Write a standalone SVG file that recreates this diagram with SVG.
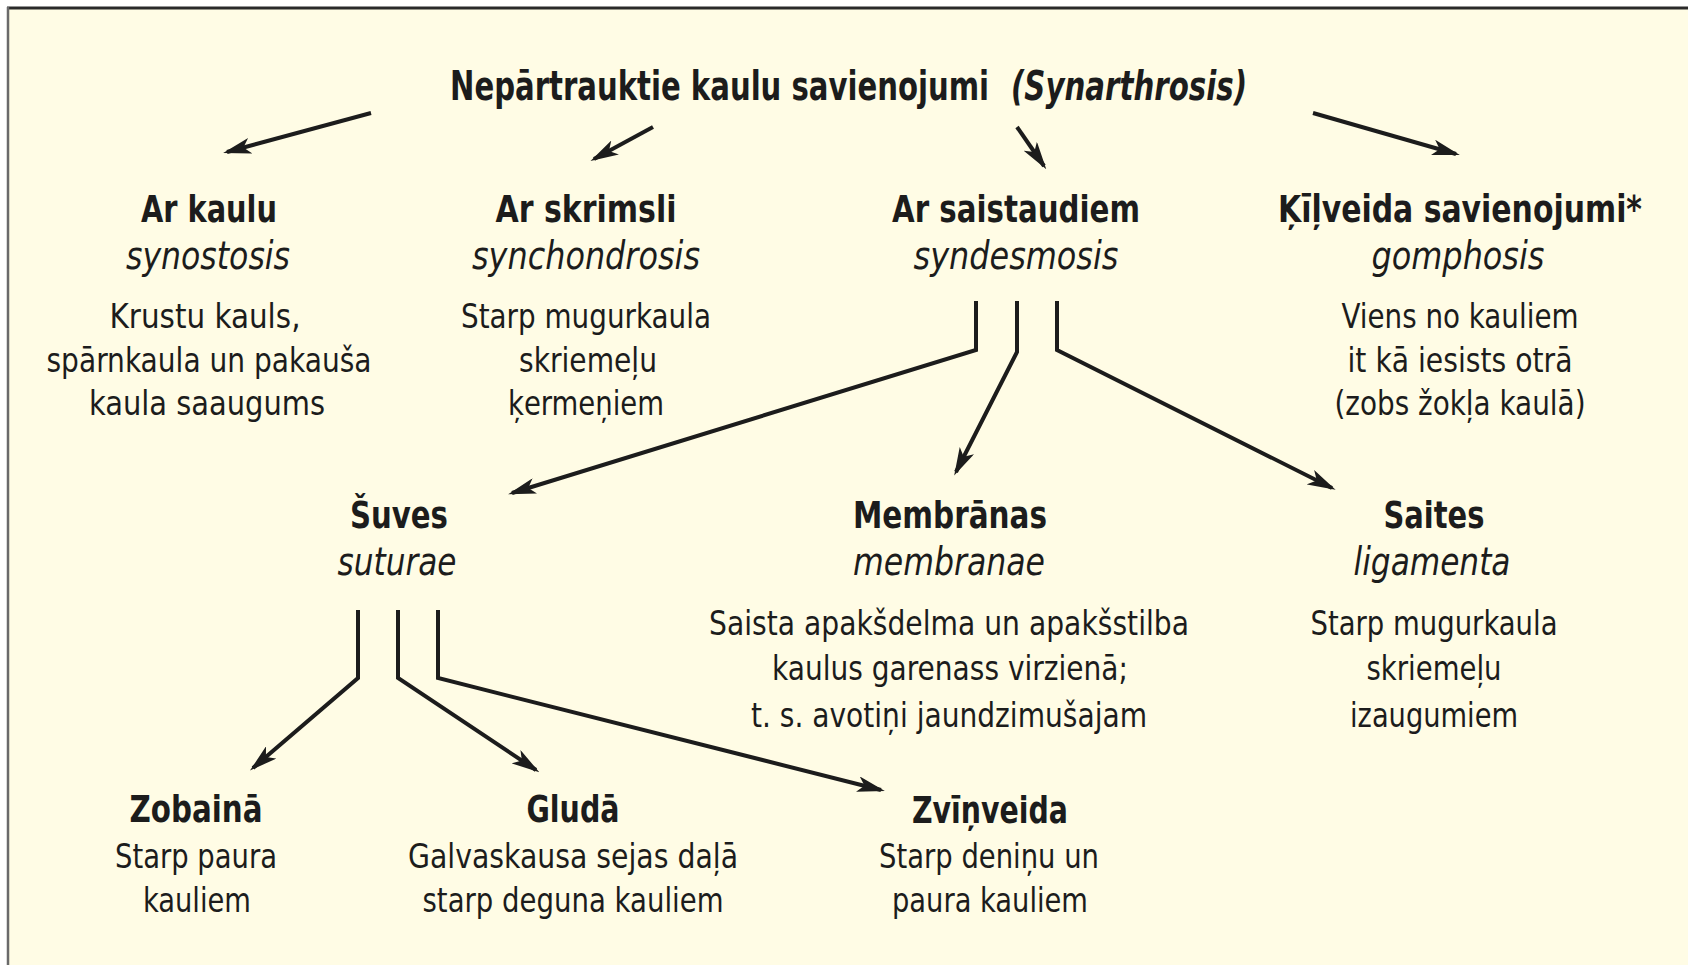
<svg xmlns="http://www.w3.org/2000/svg" width="1688" height="965" viewBox="0 0 1688 965">
<defs>
<style>
text{font-family:"Liberation Sans Narrow","DejaVu Sans Condensed","Liberation Sans",sans-serif;fill:#1c1c1c;text-anchor:middle}
.t{font-size:41px;font-weight:bold;text-anchor:end}
.ti{font-size:41px;font-weight:bold;font-style:italic;text-anchor:start}
.h{font-size:38px;font-weight:bold}
.i{font-size:39px;font-style:italic}
.d{font-size:33px}
.c{fill:none;stroke:#1c1c1c;stroke-width:4;stroke-linejoin:miter;marker-end:url(#ah)}
</style>
<marker id="ah" viewBox="0 0 28 16" markerWidth="28" markerHeight="16" refX="24" refY="8" orient="auto" markerUnits="userSpaceOnUse">
<path d="M0,0 L28,8 L0,16 L7,8 z" fill="#1c1c1c"/>
</marker>
</defs>
<rect x="0" y="0" width="1688" height="965" fill="#ffffff"/>
<rect x="8" y="8" width="1680" height="957" fill="#fffce5"/>
<line x1="7" y1="8" x2="1688" y2="8" stroke="#2a2a2a" stroke-width="3"/>
<line x1="8" y1="7" x2="8" y2="965" stroke="#6a6a6a" stroke-width="2.5"/>

<g id="title">
<text class="t" x="989" y="100" textLength="539" lengthAdjust="spacingAndGlyphs">Nepārtrauktie kaulu savienojumi</text>
<text class="ti" x="1011" y="100" textLength="236" lengthAdjust="spacingAndGlyphs">(Synarthrosis)</text>
</g>

<g id="ar-kaulu">
<text class="h" x="209" y="222" textLength="136" lengthAdjust="spacingAndGlyphs">Ar kaulu</text>
<text class="i" x="208" y="269" textLength="164" lengthAdjust="spacingAndGlyphs">synostosis</text>
<text class="d" x="205" y="328" textLength="191" lengthAdjust="spacingAndGlyphs">Krustu kauls,</text>
<text class="d" x="209" y="372" textLength="325" lengthAdjust="spacingAndGlyphs">spārnkaula un pakauša</text>
<text class="d" x="207" y="415" textLength="236" lengthAdjust="spacingAndGlyphs">kaula saaugums</text>
</g>

<g id="ar-skrimsli">
<text class="h" x="586" y="222" textLength="181" lengthAdjust="spacingAndGlyphs">Ar skrimsli</text>
<text class="i" x="586" y="269" textLength="228" lengthAdjust="spacingAndGlyphs">synchondrosis</text>
<text class="d" x="586" y="328" textLength="250" lengthAdjust="spacingAndGlyphs">Starp mugurkaula</text>
<text class="d" x="588" y="372" textLength="138" lengthAdjust="spacingAndGlyphs">skriemeļu</text>
<text class="d" x="586" y="415" textLength="156" lengthAdjust="spacingAndGlyphs">ķermeņiem</text>
</g>

<g id="ar-saistaudiem">
<text class="h" x="1016" y="222" textLength="248" lengthAdjust="spacingAndGlyphs">Ar saistaudiem</text>
<text class="i" x="1016" y="269" textLength="205" lengthAdjust="spacingAndGlyphs">syndesmosis</text>
</g>

<g id="kilveida">
<text class="h" x="1460" y="222" textLength="364" lengthAdjust="spacingAndGlyphs" style="font-size:37px">Ķīļveida savienojumi*</text>
<text class="i" x="1458" y="269" textLength="173" lengthAdjust="spacingAndGlyphs">gomphosis</text>
<text class="d" x="1460" y="328" textLength="237" lengthAdjust="spacingAndGlyphs">Viens no kauliem</text>
<text class="d" x="1460" y="372" textLength="225" lengthAdjust="spacingAndGlyphs">it kā iesists otrā</text>
<text class="d" x="1460" y="415" textLength="251" lengthAdjust="spacingAndGlyphs">(zobs žokļa kaulā)</text>
</g>

<g id="suves">
<text class="h" x="399" y="528" textLength="98" lengthAdjust="spacingAndGlyphs">Šuves</text>
<text class="i" x="397" y="575" textLength="119" lengthAdjust="spacingAndGlyphs">suturae</text>
</g>

<g id="membranas">
<text class="h" x="950" y="528" textLength="194" lengthAdjust="spacingAndGlyphs">Membrānas</text>
<text class="i" x="949" y="575" textLength="192" lengthAdjust="spacingAndGlyphs">membranae</text>
<text class="d" x="949" y="635" textLength="480" lengthAdjust="spacingAndGlyphs">Saista apakšdelma un apakšstilba</text>
<text class="d" x="950" y="680" textLength="356" lengthAdjust="spacingAndGlyphs">kaulus garenass virzienā;</text>
<text class="d" x="949" y="727" textLength="396" lengthAdjust="spacingAndGlyphs">t. s. avotiņi jaundzimušajam</text>
</g>

<g id="saites">
<text class="h" x="1434" y="528" textLength="101" lengthAdjust="spacingAndGlyphs">Saites</text>
<text class="i" x="1432" y="575" textLength="157" lengthAdjust="spacingAndGlyphs">ligamenta</text>
<text class="d" x="1434" y="635" textLength="247" lengthAdjust="spacingAndGlyphs">Starp mugurkaula</text>
<text class="d" x="1434" y="680" textLength="135" lengthAdjust="spacingAndGlyphs">skriemeļu</text>
<text class="d" x="1434" y="727" textLength="168" lengthAdjust="spacingAndGlyphs">izaugumiem</text>
</g>

<g id="zobaina">
<text class="h" x="196" y="822" textLength="133" lengthAdjust="spacingAndGlyphs">Zobainā</text>
<text class="d" x="196" y="868" textLength="162" lengthAdjust="spacingAndGlyphs">Starp paura</text>
<text class="d" x="197" y="912" textLength="108" lengthAdjust="spacingAndGlyphs">kauliem</text>
</g>

<g id="gluda">
<text class="h" x="573" y="822" textLength="93" lengthAdjust="spacingAndGlyphs">Gludā</text>
<text class="d" x="573" y="868" textLength="330" lengthAdjust="spacingAndGlyphs">Galvaskausa sejas daļā</text>
<text class="d" x="573" y="912" textLength="301" lengthAdjust="spacingAndGlyphs">starp deguna kauliem</text>
</g>

<g id="zvinveida">
<text class="h" x="990" y="823" textLength="156" lengthAdjust="spacingAndGlyphs">Zvīņveida</text>
<text class="d" x="989" y="868" textLength="220" lengthAdjust="spacingAndGlyphs">Starp deniņu un</text>
<text class="d" x="990" y="912" textLength="196" lengthAdjust="spacingAndGlyphs">paura kauliem</text>
</g>

<g id="connectors">
<path class="c" d="M371,113 L227,152"/>
<path class="c" d="M653,127 L594,159"/>
<path class="c" d="M1017,127 L1044,166"/>
<path class="c" d="M1313,113 L1456,154"/>
<path class="c" d="M976,301 L976,350 L512,493"/>
<path class="c" d="M1017,301 L1017,352 L956,472"/>
<path class="c" d="M1057,301 L1057,350 L1332,488"/>
<path class="c" d="M358,610 L358,678 L253,768"/>
<path class="c" d="M398,610 L398,678 L536,770"/>
<path class="c" d="M438,610 L438,678 L881,790"/>
</g>
</svg>
